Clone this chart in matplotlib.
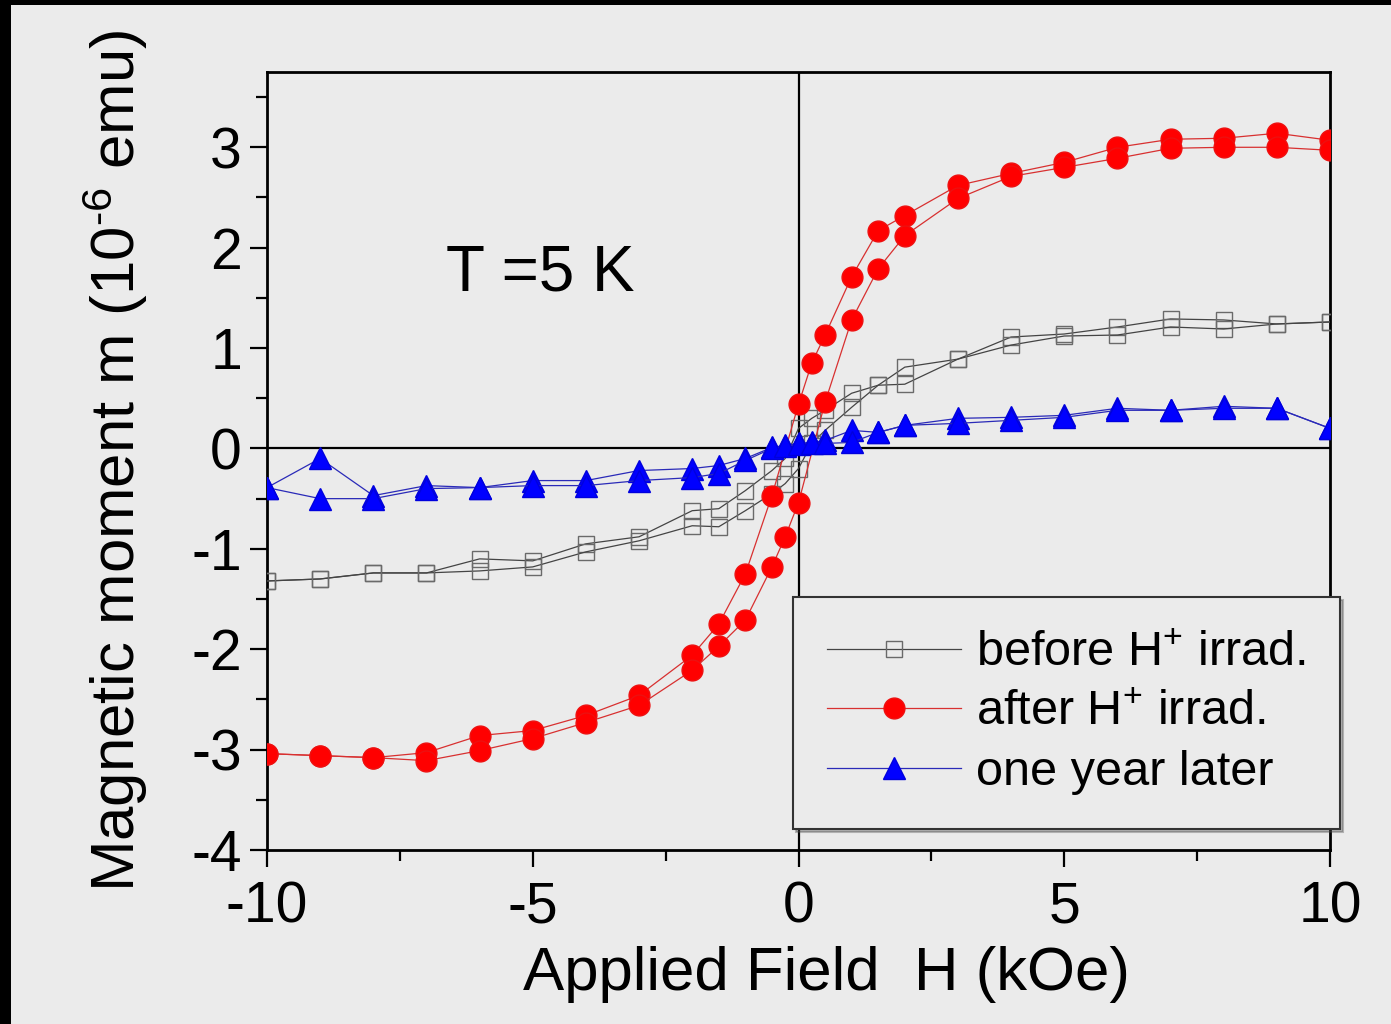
import matplotlib
matplotlib.use("Agg")
import matplotlib.pyplot as plt
from matplotlib.patches import Rectangle
from matplotlib.ticker import MultipleLocator

plt.rcParams['font.family'] = ['Liberation Sans', 'DejaVu Sans']
plt.rcParams['mathtext.fontset'] = 'custom'
plt.rcParams['mathtext.rm'] = 'Liberation Sans'
plt.rcParams['mathtext.it'] = 'Liberation Sans:italic'
plt.rcParams['axes.unicode_minus'] = False

# field sweep: +10 -> -10 (down) and -10 -> +10 (up), kOe
H_down = [10, 9, 8, 7, 6, 5, 4, 3, 2, 1.5, 1, 0.5, 0.25, 0, -0.25, -0.5,
          -1, -1.5, -2, -3, -4, -5, -6, -7, -8, -9, -10]
H_up = [-10, -9, -8, -7, -6, -5, -4, -3, -2, -1.5, -1, -0.5, -0.25, 0, 0.25, 0.5,
        1, 1.5, 2, 3, 4, 5, 6, 7, 8, 9, 10]

# before H+ irradiation (1e-6 emu)
before_down = [1.26, 1.24, 1.28, 1.29, 1.21, 1.14, 1.11, 0.89, 0.81, 0.63, 0.55, 0.38, 0.30, 0.20,
               -0.10, -0.22, -0.42, -0.60, -0.62, -0.88, -0.95, -1.12, -1.10, -1.24, -1.24, -1.30, -1.32]
before_up = [-1.32, -1.30, -1.24, -1.24, -1.22, -1.18, -1.03, -0.92, -0.77, -0.78, -0.62, -0.45, -0.35,
             -0.20, 0.05, 0.18, 0.41, 0.63, 0.64, 0.89, 1.03, 1.12, 1.13, 1.21, 1.19, 1.24, 1.26]

# after H+ irradiation
H_red_down = [10, 9, 8, 7, 6, 5, 4, 3, 2, 1.5, 1, 0.5, 0.25, 0, -0.5,
              -1, -1.5, -2, -3, -4, -5, -6, -7, -8, -9, -10]
after_down = [3.07, 3.14, 3.09, 3.08, 3.00, 2.85, 2.74, 2.62, 2.32, 2.17, 1.71, 1.13, 0.85, 0.44, -0.47,
              -1.25, -1.75, -2.06, -2.46, -2.66, -2.81, -2.86, -3.03, -3.08, -3.06, -3.04]
H_red_up = [-10, -9, -8, -7, -6, -5, -4, -3, -2, -1.5, -1, -0.5, -0.25, 0, 0.5,
            1, 1.5, 2, 3, 4, 5, 6, 7, 8, 9, 10]
after_up = [-3.04, -3.06, -3.08, -3.11, -3.01, -2.89, -2.73, -2.56, -2.21, -1.97, -1.71, -1.18, -0.88,
            -0.54, 0.46, 1.28, 1.79, 2.12, 2.49, 2.71, 2.80, 2.89, 2.99, 3.00, 3.00, 2.97]

# one year later
year_down = [0.20, 0.40, 0.42, 0.38, 0.40, 0.33, 0.31, 0.30, 0.23, 0.16, 0.18, 0.08, 0.06, 0.05,
             0.03, 0.01, -0.10, -0.17, -0.20, -0.22, -0.32, -0.32, -0.39, -0.37, -0.47, -0.10, -0.39]
year_up = [-0.39, -0.50, -0.50, -0.40, -0.39, -0.37, -0.37, -0.32, -0.29, -0.25, -0.12, 0.00, 0.02,
           0.04, 0.05, 0.05, 0.06, 0.16, 0.23, 0.25, 0.28, 0.31, 0.38, 0.38, 0.40, 0.40, 0.20]

bg = '#ebebeb'
fig = plt.figure(figsize=(13.91, 10.24), dpi=100, facecolor='black')
fig.patches.append(Rectangle((11 / 1391, 0), 1, 1 - 5 / 1024, transform=fig.transFigure,
                             facecolor=bg, edgecolor='none', zorder=-10))
ax = fig.add_axes([267 / 1391, 1 - 850 / 1024, (1330 - 267) / 1391, (850 - 72) / 1024])
ax.set_facecolor(bg)

ax.axhline(0, color='black', lw=1.6, zorder=1)
ax.axvline(0, color='black', lw=1.6, zorder=1)

sq = dict(color='#444444', lw=0.9, marker='s', ms=11, mfc='none', mec='#6a6a6a', mew=1.0, zorder=3)
ax.plot(H_down, before_down, label='before H$^{+}$ irrad.', **sq)
ax.plot(H_up, before_up, **sq)

rd = dict(color='#d83030', lw=0.9, marker='o', ms=15, mfc='#ff0000', mec='#ee1010', mew=1.0, zorder=4)
ax.plot(H_red_down, after_down, label='after H$^{+}$ irrad.', **rd)
ax.plot(H_red_up, after_up, **rd)

bl = dict(color='#2a2ab8', lw=0.9, marker='^', ms=16, mfc='#0000ff', mec='#0000dd', mew=1.0, zorder=5)
ax.plot(H_down, year_down, label='one year later', **bl)
ax.plot(H_up, year_up, **bl)

ax.set_xlim(-10, 10)
ax.set_ylim(-4, 3.75)
ax.xaxis.set_major_locator(MultipleLocator(5))
ax.xaxis.set_minor_locator(MultipleLocator(2.5))
ax.yaxis.set_major_locator(MultipleLocator(1))
ax.yaxis.set_minor_locator(MultipleLocator(0.5))
ax.tick_params(which='both', direction='out', width=1.6, labelsize=41, top=False, right=False)
ax.tick_params(which='major', length=12)
ax.tick_params(which='minor', length=8)
ax.tick_params(axis='y', pad=6)
ax.tick_params(axis='x', pad=10)
for s in ax.spines.values():
    s.set_linewidth(2.0)

ax.set_xlabel('Applied Field  H (kOe)', fontsize=44.5, labelpad=8)
ax.xaxis.label.set_x(0.526)
ax.set_ylabel(r'Magnetic moment m (10$^{\text{-}6}$ emu)', fontsize=44.5, labelpad=30)

ax.text(-4.86, 1.74, 'T =5 K', fontsize=46, ha='center', va='center')

leg = ax.legend(loc='lower left', bbox_to_anchor=(793 / 1391, 1 - 829 / 1024),
                bbox_transform=fig.transFigure, fontsize=35, frameon=True, fancybox=False,
                shadow={'alpha': 0.35}, handlelength=2.75, handletextpad=0.32,
                borderpad=0.7, labelspacing=0.3, borderaxespad=0)
leg.get_frame().set_facecolor(bg)
leg.get_frame().set_edgecolor('#333333')
leg.get_frame().set_linewidth(1.5)
leg.get_frame().set_alpha(1)

fig.savefig('out.png', dpi=100, facecolor=fig.get_facecolor())
